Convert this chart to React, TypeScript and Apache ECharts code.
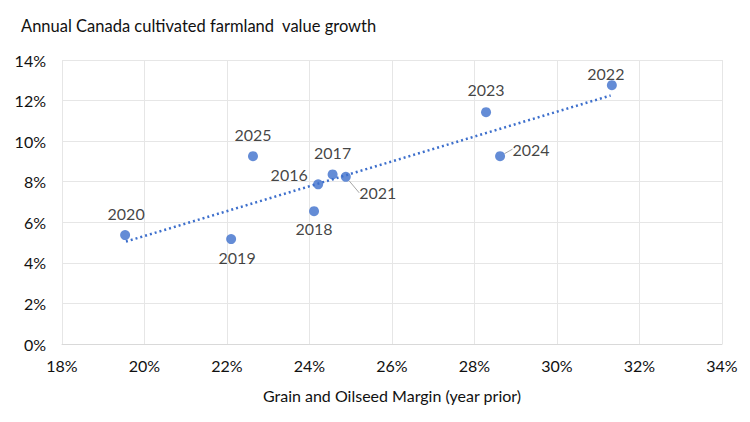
import React, { useEffect, useRef } from "react";
import * as echarts from "echarts";

const years = ["2016", "2017", "2018", "2019", "2020", "2021", "2022", "2023", "2024", "2025"];
const marginX = [24.21, 24.56, 24.11, 22.1, 19.53, 24.88, 31.33, 28.28, 28.62, 22.63];
const growthY = [7.87, 8.36, 6.55, 5.17, 5.37, 8.24, 12.76, 11.43, 9.26, 9.26];
const trendX = [19.55, 31.3];
const trendY = [5.05, 12.25];

// label placement (layout only): [dx, dy] from point centre
const labelOffsets: [number, number][] = [
  [-29, -10], [0, -22], [0, 17], [6, 18], [1, -22], [32, 16], [-6, -12], [0, -23], [31, -7], [0, -22],
];
const leaderLines = [false, false, false, false, false, true, false, false, true, false];

const FONT = "Lato";
const FS = 16;
const BLUE = "#3d6fcc";

export default function App() {
  const ref = useRef<HTMLDivElement>(null);
  useEffect(() => {
    if (!ref.current) return;
    const chart = echarts.init(ref.current, null, { renderer: "svg" });
    const pts = years.map((y, i) => ({
      value: [marginX[i], growthY[i]],
      name: y,
      labelLine: {
        show: leaderLines[i],
        lineStyle: { color: "#a6a6a6", width: 1 },
      },
    }));
    chart.setOption({
      animation: false,
      backgroundColor: "#ffffff",
      title: {
        text: "Annual Canada cultivated farmland  value growth",
        left: 16,
        top: 12,
        textStyle: { fontFamily: FONT, fontSize: 16.5, fontWeight: "normal", color: "#111111" },
      },
      grid: { left: 62, right: 28, top: 60, bottom: 78 },
      xAxis: {
        type: "value",
        min: 18,
        max: 34,
        interval: 2,
        name: "Grain and Oilseed Margin (year prior)",
        nameLocation: "middle",
        nameGap: 43,
        nameTextStyle: { fontFamily: FONT, fontSize: FS, color: "#111111" },
        axisLine: { show: true, lineStyle: { color: "#d9d9d9" } },
        axisTick: { show: false },
        axisLabel: {
          formatter: (v: number) => `${v}%`,
          fontFamily: FONT,
          fontSize: FS,
          color: "#111111",
          margin: 13,
        },
        splitLine: { show: true, lineStyle: { color: "#e6e6e6" } },
      },
      yAxis: {
        type: "value",
        min: 0,
        max: 14,
        interval: 2,
        axisLine: { show: false },
        axisTick: { show: false },
        axisLabel: {
          formatter: (v: number) => `${v}%`,
          fontFamily: FONT,
          fontSize: FS,
          color: "#111111",
          margin: 16,
        },
        splitLine: { show: true, lineStyle: { color: "#e6e6e6" } },
      },
      series: [
        {
          type: "line",
          data: trendX.map((x, i) => [x, trendY[i]]),
          showSymbol: false,
          symbol: "none",
          lineStyle: { color: BLUE, width: 2.5, type: [2, 3] },
          silent: true,
          z: 1,
        },
        {
          type: "scatter",
          data: pts,
          symbolSize: 10,
          itemStyle: { color: BLUE },
          z: 3,
          label: {
            show: true,
            position: "inside",
            formatter: (p: any) => p.name,
            fontFamily: FONT,
            fontSize: FS,
            color: "#111111",
          },
          labelLayout: (params: any) => {
            const o = labelOffsets[params.dataIndex];
            return { dx: o[0], dy: o[1] };
          },
        },
      ],
    });
    return () => chart.dispose();
  }, []);
  return (
    <div
      ref={ref}
      style={{ position: "fixed", left: 0, top: 0, width: 750, height: 422 }}
    />
  );
}
